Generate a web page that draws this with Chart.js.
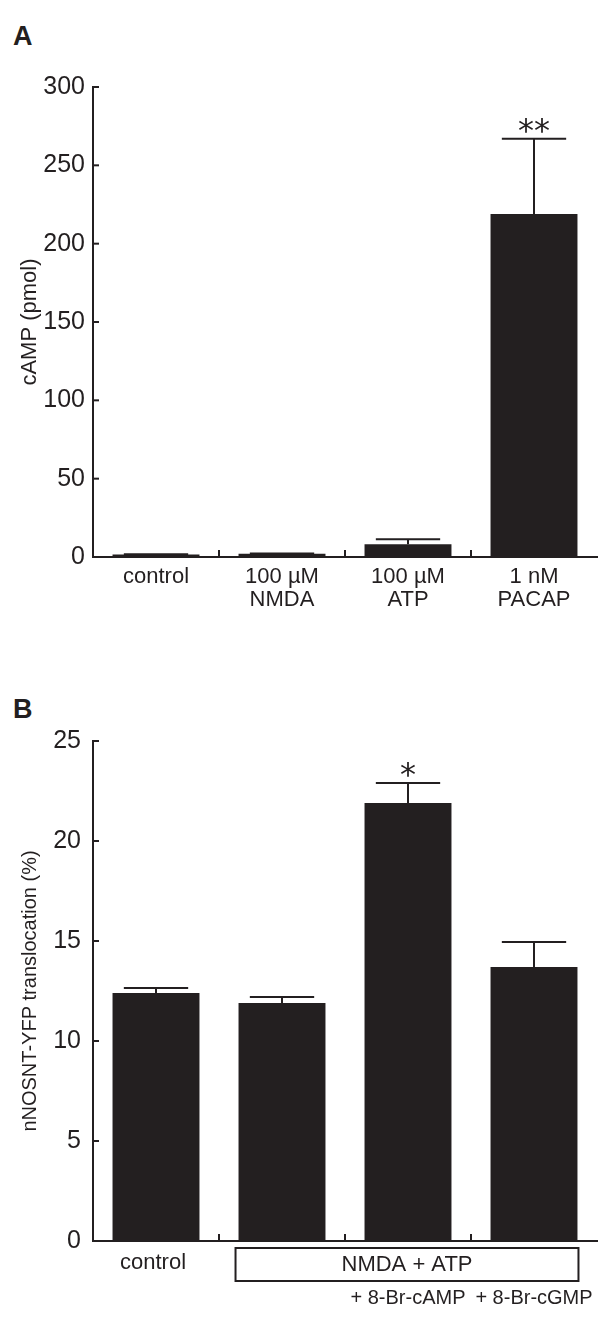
<!DOCTYPE html>
<html>
<head>
<meta charset="utf-8">
<script src="https://cdn.jsdelivr.net/npm/chart.js@4"></script>
<style>
  html, body { margin: 0; padding: 0; background: #fff; }
  body { width: 600px; height: 1336px; position: relative; overflow: hidden; font-family: "Liberation Sans", Arial, sans-serif; }
  .panel { position: absolute; left: 0; width: 600px; }
  .letter { position: absolute; left: 13px; font: bold 27px "Liberation Sans", Arial, sans-serif; color: #231f20; }
</style>
</head>
<body>
<div class="letter" style="top: 21px">A</div>
<div class="panel" style="top: 0; height: 640px"><canvas id="chart-a" width="600" height="640"></canvas></div>
<div class="letter" style="top: 694px">B</div>
<div class="panel" style="top: 680px; height: 656px"><canvas id="chart-b" width="600" height="656"></canvas></div>
<script>
const ink = '#231f20'
const font = '"Liberation Sans", Arial, sans-serif'

// panel A
const campLabels = [['control'], ['100 \u00b5M', 'NMDA'], ['100 \u00b5M', 'ATP'], ['1 nM', 'PACAP']]
const campValues = [1.6, 2.1, 8.1, 219]
const campErrors = [0.2, 0.2, 3.2, 48]
const campStars = ['', '', '', '**']
const campTicks = [0, 50, 100, 150, 200, 250, 300]

// panel B
const transLabels = ['control', 'NMDA + ATP', '+ 8-Br-cAMP', '+ 8-Br-cGMP']
const transValues = [12.4, 11.9, 21.9, 13.7]
const transErrors = [0.25, 0.3, 1.0, 1.25]
const transStars = ['', '', '*', '']
const transTicks = [0, 5, 10, 15, 20, 25]

// error bars, stars, inward ticks
const extras = {
  id: 'extras',
  afterDatasetsDraw(chart, args, opts) {
    const ctx = chart.ctx
    const x = chart.scales.x
    const y = chart.scales.y
    const meta = chart.getDatasetMeta(0)
    ctx.save()
    ctx.strokeStyle = ink
    ctx.fillStyle = ink
    ctx.lineWidth = 2
    meta.data.forEach((bar, i) => {
      const top = y.getPixelForValue(opts.values[i] + opts.errors[i])
      const half = bar.width * 0.37
      ctx.beginPath()
      ctx.moveTo(bar.x, bar.y)
      ctx.lineTo(bar.x, top)
      ctx.moveTo(bar.x - half, top)
      ctx.lineTo(bar.x + half, top)
      ctx.stroke()
      if (opts.stars[i]) {
        ctx.font = '32px "DejaVu Sans", sans-serif'
        ctx.textAlign = 'center'
        ctx.textBaseline = 'alphabetic'
        const m = ctx.measureText(opts.stars[i])
        ctx.fillText(opts.stars[i], bar.x, top - 6 - m.actualBoundingBoxDescent)
      }
    })
    // y ticks pointing right
    y.ticks.forEach(t => {
      const py = y.getPixelForValue(t.value)
      ctx.beginPath()
      ctx.moveTo(x.left, py)
      ctx.lineTo(x.left + 6, py)
      ctx.stroke()
    })
    // x ticks between groups pointing up
    for (let i = 1; i < meta.data.length; i++) {
      const px = (x.getPixelForValue(i - 1) + x.getPixelForValue(i)) / 2
      ctx.beginPath()
      ctx.moveTo(px, y.bottom)
      ctx.lineTo(px, y.bottom - 7)
      ctx.stroke()
    }
    // grouping box under panel B
    if (opts.box) {
      const b1 = meta.data[1], b3 = meta.data[3]
      const left = b1.x - b1.width / 2 - 3
      const right = b3.x + b3.width / 2 + 1
      const top = y.bottom + 7
      ctx.strokeRect(left, top, right - left, 33)
      ctx.textAlign = 'center'
      ctx.textBaseline = 'middle'
      ctx.font = '22px ' + font
      ctx.fillText(opts.box, (left + right) / 2, y.bottom + 24)
      ctx.fillText(transLabels[0], meta.data[0].x - 3, y.bottom + 22)
      ctx.font = '20px ' + font
      ctx.fillText(transLabels[2], meta.data[2].x, y.bottom + 57)
      ctx.fillText(transLabels[3], meta.data[3].x, y.bottom + 57)
    }
    ctx.restore()
  }
}

function makeChart(id, cfg) {
  return new Chart(document.getElementById(id), {
    type: 'bar',
    data: {
      labels: cfg.labels,
      datasets: [{
        data: cfg.values,
        backgroundColor: ink,
        borderWidth: 0,
        categoryPercentage: 1,
        barPercentage: 0.69,
      }],
    },
    options: {
      responsive: false,
      animation: false,
      layout: { padding: { top: cfg.top, right: 3, left: 0, bottom: 0 } },
      plugins: {
        legend: { display: false },
        tooltip: { enabled: false },
        extras: { values: cfg.values, errors: cfg.errors, stars: cfg.stars, box: cfg.box },
      },
      scales: {
        x: {
          grid: { display: false, drawTicks: false },
          border: { display: true, color: ink, width: 2 },
          ticks: {
            display: cfg.showX,
            color: ink,
            font: { family: font, size: 22, lineHeight: 1.05 },
            padding: 8,
            maxRotation: 0,
          },
          afterFit: s => { s.height = cfg.xHeight },
        },
        y: {
          min: cfg.ticks[0],
          max: cfg.ticks[cfg.ticks.length - 1],
          afterBuildTicks: s => { s.ticks = cfg.ticks.map(v => ({ value: v })) },
          grid: { display: false, drawTicks: false },
          border: { display: true, color: ink, width: 2 },
          ticks: { color: ink, font: { family: font, size: 25 }, padding: cfg.tickPad },
          title: {
            display: true,
            text: cfg.title,
            color: ink,
            font: { family: font, size: cfg.titleSize },
            padding: { top: 30 - cfg.titleSize * 0.6, bottom: 0 },
          },
          afterFit: s => { s.width = 93 },
        },
      },
    },
    plugins: [extras],
  })
}

makeChart('chart-a', {
  labels: campLabels, values: campValues, errors: campErrors, stars: campStars,
  ticks: campTicks, title: 'cAMP (pmol)', titleSize: 22, tickPad: 8, top: 87, xHeight: 83, showX: true,
})

makeChart('chart-b', {
  labels: transLabels, values: transValues, errors: transErrors, stars: transStars,
  ticks: transTicks, title: 'nNOSNT-YFP translocation (%)', titleSize: 20, tickPad: 12, top: 61, xHeight: 95, showX: false,
  box: transLabels[1],
})
</script>
</body>
</html>
